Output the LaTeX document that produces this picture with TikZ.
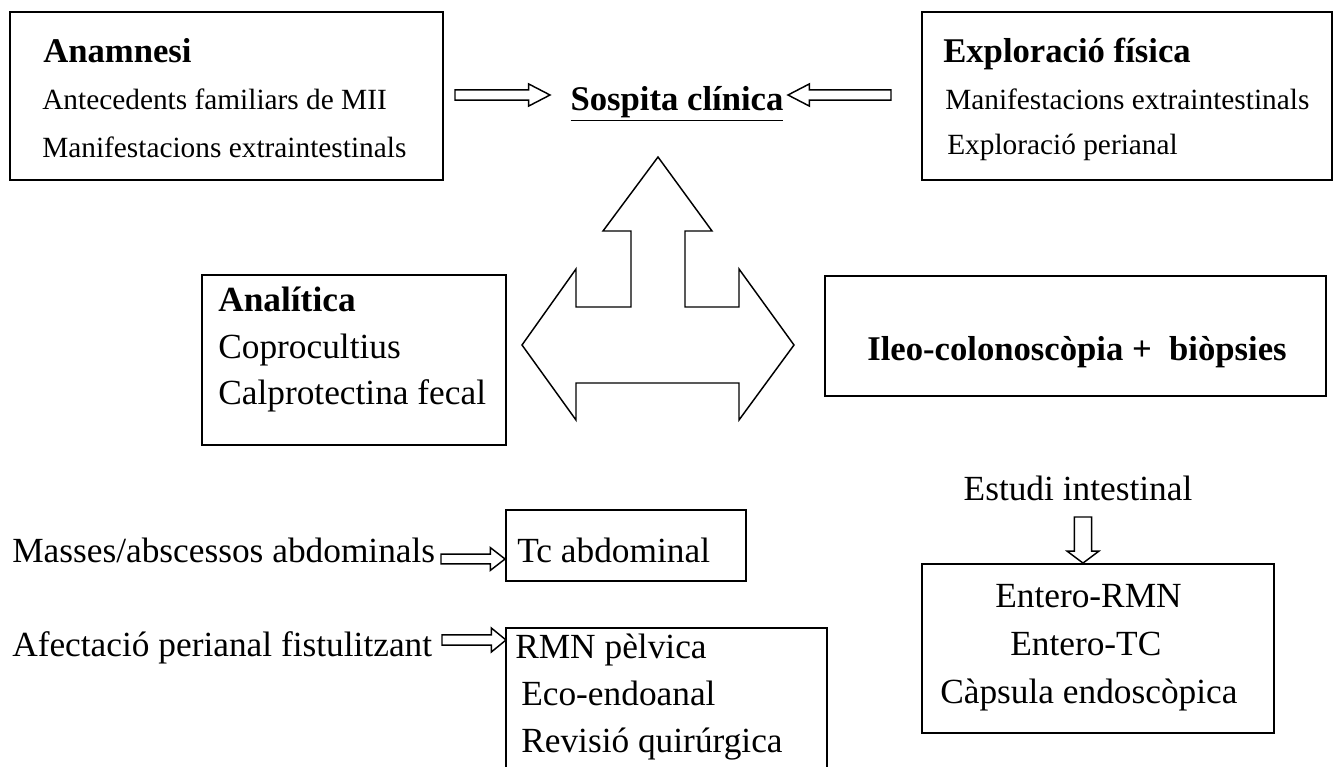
\documentclass[tikz,border=0pt]{standalone}
\usepackage{fontspec}
\setmainfont{Liberation Serif}
\usetikzlibrary{fit,calc}
\tikzset{
  box/.style={draw, line width=1.4pt, inner sep=0pt},
  txt/.style={inner sep=0pt, anchor=base west, font=\fontsize{22}{26}\selectfont},
  headtxt/.style={inner sep=0pt, anchor=base west, font=\fontsize{26}{30}\selectfont\bfseries},
  bigtxt/.style={inner sep=0pt, anchor=base west, font=\fontsize{26.5}{30}\selectfont},
  arrowline/.style={draw, line width=1.1pt, line join=miter},
}
% horizontal block arrow: start, end, shaft half, head half, head length
\newcommand{\harr}[5]{\draw[arrowline] let \p1=(#1), \p2=(#2), \n1={ifthenelse(\x2>\x1,1,-1)*#5} in
  (\x1,\y1+#3) -- (\x2-\n1*1pt,\y1+#3) -- (\x2-\n1*1pt,\y1+#4) -- (\x2,\y1) -- (\x2-\n1*1pt,\y1-#4) -- (\x2-\n1*1pt,\y1-#3) -- (\x1,\y1-#3) -- cycle;}
% vertical block arrow (downwards on the page)
\newcommand{\varr}[5]{\draw[arrowline] let \p1=(#1), \p2=(#2) in
  (\x1+#3,\y1) -- (\x1+#3,\y2+#5) -- (\x1+#4,\y2+#5) -- (\x2,\y2) -- (\x1-#4,\y2+#5) -- (\x1-#3,\y2+#5) -- (\x1-#3,\y1) -- cycle;}
\begin{document}
\begin{tikzpicture}[x=0.75pt,y=-0.75pt]
\useasboundingbox (0,0) rectangle (1340,767);

% ---------- top row ----------
\node[box, fit={(10,12)(443,180)}] (anam) {};
\node[headtxt] (anamT) at (43,63) {Anamnesi};
\node[txt] (anam1) at (42,110) {Antecedents familiars de MII};
\node[txt] (anam2) at (42,157) {Manifestacions extraintestinals};

\node[box, fit={(922,12)(1332,180)}] (expl) {};
\node[headtxt] (explT) at (943,63) {Exploració física};
\node[txt] (expl1) at (945,110) {Manifestacions extraintestinals};
\node[txt] (expl2) at (947,155) {Exploració perianal};

\node[headtxt, anchor=base] (sosp) at (677,111) {\underline{Sospita clínica}};

\coordinate (a1s) at (455,95);
\coordinate (a1e) at (550,95);
\harr{a1s}{a1e}{3.8pt}{8.3pt}{16pt}
\coordinate (a2s) at (891,95);
\coordinate (a2e) at (788,95);
\harr{a2s}{a2e}{3.8pt}{8.3pt}{16pt}

% ---------- central three-way arrow ----------
\draw[arrowline] (658,157) -- (712,231) -- (685,231) -- (685,307) -- (739,307) -- (739,269)
  -- (794,345) -- (739,420) -- (739,383) -- (576,383) -- (576,420) -- (522,345)
  -- (576,269) -- (576,307) -- (631,307) -- (631,231) -- (603,231) -- cycle;

% ---------- middle row ----------
\node[box, fit={(202,275)(506,445)}] (anal) {};
\node[bigtxt, font=\fontsize{26.5}{30}\selectfont\bfseries] (analT) at (218,311) {Analítica};
\node[bigtxt] (anal1) at (218,358) {Coprocultius};
\node[bigtxt] (anal2) at (218,404) {Calprotectina fecal};

\node[box, fit={(825,276)(1326,396)}] (ileo) {};
\node[headtxt, anchor=base] (ileoT) at (1077,360) {Ileo-colonoscòpia +\ \ biòpsies};

% ---------- bottom right ----------
\node[bigtxt, anchor=base] (estudi) at (1078,500) {Estudi intestinal};
\node[box, fit={(922,564)(1274,733)}] (ent) {};
\node[bigtxt] (ent1) at (995,607) {Entero-RMN};
\node[bigtxt] (ent2) at (1010,655) {Entero-TC};
\node[bigtxt] (ent3) at (940,703) {Càpsula endoscòpica};
\coordinate (a5s) at (1083,517);
\varr{a5s}{ent.north -| a5s}{6.5pt}{12pt}{9pt}

% ---------- bottom left ----------
\node[bigtxt] (masses) at (12,562) {Masses/abscessos abdominals};
\node[box, fit={(506,510)(746,581)}] (tc) {};
\node[bigtxt] (tcT) at (517,562) {Tc abdominal};
\coordinate (a3s) at (441,559);
\harr{a3s}{tc.west |- a3s}{3.6pt}{8.5pt}{11pt}

\node[bigtxt] (afect) at (12,656) {Afectació perianal fistulitzant};
\draw[line width=1.4pt] (506,790) -- (506,628) -- (827,628) -- (827,790);
\coordinate (rmn) at (506,628);
\node[bigtxt] (rmn1) at (515,658) {RMN pèlvica};
\node[bigtxt] (rmn2) at (521,705) {Eco-endoanal};
\node[bigtxt] (rmn3) at (521,752) {Revisió quirúrgica};
\coordinate (a4s) at (442,640);
\harr{a4s}{rmn |- a4s}{3.8pt}{9pt}{11pt}
\end{tikzpicture}
\end{document}
